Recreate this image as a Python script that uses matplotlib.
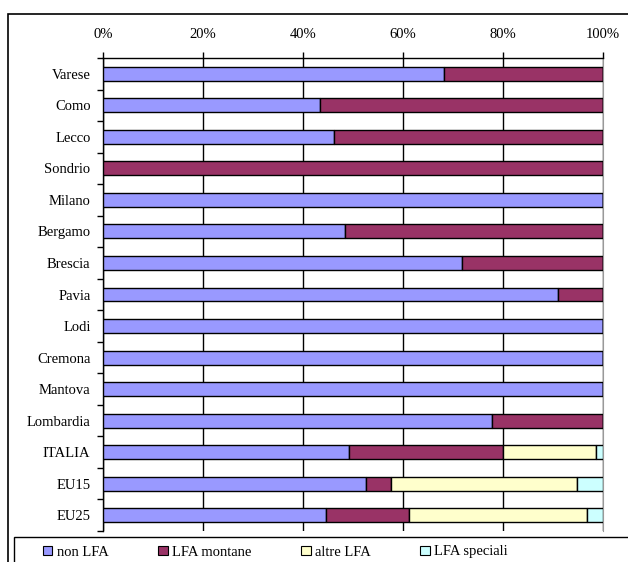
import numpy as np
import matplotlib
matplotlib.use("Agg")
import matplotlib.pyplot as plt
from matplotlib.patches import Rectangle, Patch
from matplotlib.ticker import FixedLocator, PercentFormatter

plt.rcParams['font.family'] = ['Liberation Serif', 'DejaVu Serif']

categories = ['Varese', 'Como', 'Lecco', 'Sondrio', 'Milano', 'Bergamo', 'Brescia',
              'Pavia', 'Lodi', 'Cremona', 'Mantova', 'Lombardia', 'ITALIA', 'EU15', 'EU25']
series_names = ['non LFA', 'LFA montane', 'altre LFA', 'LFA speciali']
non_lfa = [68.2, 43.4, 46.2, 0.0, 100.0, 48.4, 71.8, 91.0, 100.0, 100.0, 100.0, 77.7, 49.1, 52.5, 44.6]
lfa_montane = [31.8, 56.6, 53.8, 100.0, 0.0, 51.6, 28.2, 9.0, 0.0, 0.0, 0.0, 22.3, 30.9, 5.0, 16.5]
altre_lfa = [0, 0, 0, 0, 0, 0, 0, 0, 0, 0, 0, 0, 18.5, 37.2, 35.6]
lfa_speciali = [0, 0, 0, 0, 0, 0, 0, 0, 0, 0, 0, 0, 1.5, 5.3, 3.3]
colors = ['#9999FF', '#993366', '#FFFFCC', '#CCFFFF']

fig = plt.figure(figsize=(6.28, 5.62), dpi=100)
ax = fig.add_axes([103 / 628, 1 - 531 / 562, 500 / 628, 473 / 562])

y = np.arange(len(categories))
left = np.zeros(len(categories))
for vals, name, c in zip([non_lfa, lfa_montane, altre_lfa, lfa_speciali], series_names, colors):
    vals = np.array(vals, dtype=float)
    ax.barh(y, vals, left=left, height=0.44, color=c, edgecolor='black',
            linewidth=1.0, label=name, zorder=3)
    left += vals

ax.set_xlim(0, 100)
ax.set_ylim(len(categories) - 0.5, -0.5)
ax.xaxis.tick_top()
ax.set_xticks([0, 20, 40, 60, 80, 100])
ax.xaxis.set_major_formatter(PercentFormatter(decimals=0))
ax.tick_params(axis='x', direction='out', length=4, width=1, pad=8.5, labelsize=10.5)
ax.set_yticks(y)
ax.set_yticklabels(categories)
ax.yaxis.set_minor_locator(FixedLocator(np.arange(-0.5, len(categories), 1.0)))
ax.tick_params(axis='y', which='major', length=0, pad=9, labelsize=10.5)
ax.tick_params(axis='y', which='minor', direction='out', length=4, width=1)
ax.grid(axis='x', color='black', linewidth=1, zorder=1)
ax.spines['bottom'].set_visible(False)
ax.spines['right'].set_color('#999999')
ax.spines['top'].set_linewidth(1)
ax.spines['left'].set_linewidth(1)

# outer chart frame and legend box (cut by figure edges)
fig.patches.append(Rectangle((8 / 628, -0.2), 1.0, 1.2 - 14 / 562,
                             transform=fig.transFigure, fill=False,
                             edgecolor='black', linewidth=1.2))
fig.patches.append(Rectangle((14 / 628, -0.1), 1.0, 0.1 + 25 / 562,
                             transform=fig.transFigure, fill=False,
                             edgecolor='black', linewidth=1.0))

handles = [Patch(facecolor=c, edgecolor='black', linewidth=0.8) for c in colors]
fig.legend(handles, series_names, loc='center left', ncol=4, frameon=False,
           bbox_to_anchor=(43 / 628, 1 - 552 / 562), fontsize=10.5,
           handlelength=0.65, handleheight=0.65, handletextpad=0.3, columnspacing=3.4,
           borderaxespad=0, borderpad=0)

fig.savefig('out.png', dpi=100)
